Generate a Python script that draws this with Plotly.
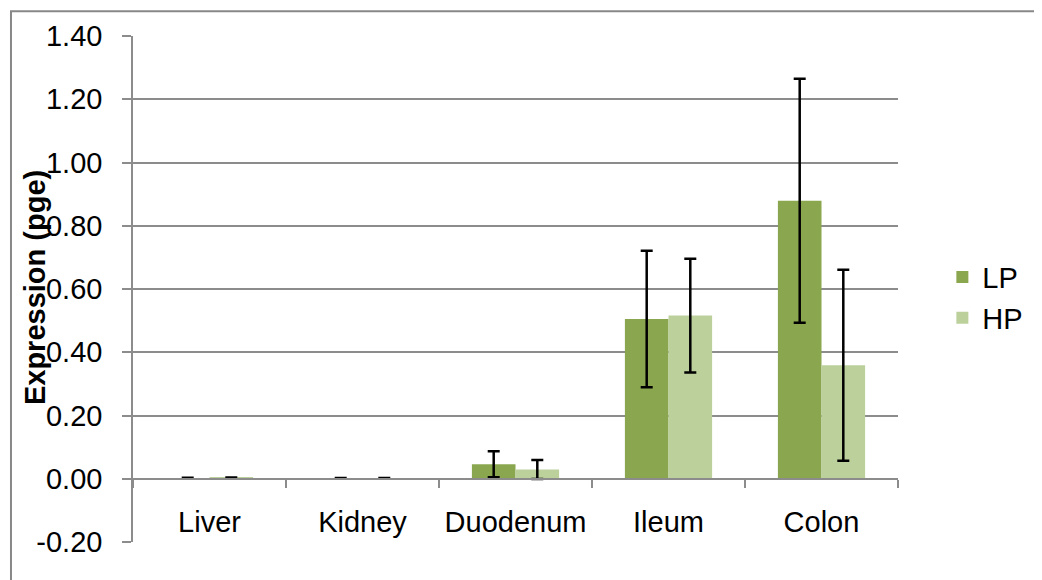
import plotly.graph_objects as go

categories = ["Liver", "Kidney", "Duodenum", "Ileum", "Colon"]
lp_values = [0.002, 0.001, 0.046, 0.505, 0.879]
lp_errors = [0.001, 0.001, 0.041, 0.216, 0.386]
hp_values = [0.003, 0.001, 0.029, 0.516, 0.359]
hp_errors = [0.001, 0.001, 0.030, 0.180, 0.302]
y_ticks = [-0.2, 0.0, 0.2, 0.4, 0.6, 0.8, 1.0, 1.2, 1.4]
y_tick_labels = ["-0.20", "0.00", "0.20", "0.40", "0.60", "0.80", "1.00", "1.20", "1.40"]

FONT = "Liberation Sans, Arial, sans-serif"
GRID = "#8c8c8c"

fig = go.Figure()
fig.add_trace(go.Bar(
    x=categories, y=lp_values, name="LP", legendgroup="lp",
    marker=dict(color="#8aa74f", line=dict(width=0)),
    error_y=dict(type="data", array=lp_errors, color="black", thickness=2.5, width=6),
))
fig.add_trace(go.Bar(
    x=categories, y=hp_values, name="HP", legendgroup="hp",
    marker=dict(color="#bbd09b", line=dict(width=0)),
    error_y=dict(type="data", array=hp_errors, color="black", thickness=2.5, width=6),
))

# page body has an 8px margin, so margins are shifted by that amount
fig.update_layout(
    width=1042, height=580,
    margin=dict(l=125, r=152, t=25, b=46),
    paper_bgcolor="white", plot_bgcolor="white",
    font=dict(family=FONT, size=29, color="black"),
    barmode="group", bargap=0.43, bargroupgap=0,
    legend=dict(x=1.058, xanchor="left", y=0.483, yanchor="middle",
                font=dict(size=29), tracegroupgap=28, traceorder="normal"),
    xaxis=dict(
        anchor="free", position=0.125,
        showline=True, linecolor=GRID, linewidth=1.5,
        ticks="outside", tickson="boundaries", ticklen=8, tickcolor=GRID, tickwidth=1.5,
        showgrid=False, ticklabelstandoff=18,
        tickfont=dict(size=29),
    ),
    yaxis=dict(
        range=[-0.2, 1.4], tickvals=y_ticks, ticktext=y_tick_labels,
        showline=True, linecolor=GRID, linewidth=1.5,
        ticks="outside", ticklen=9, tickcolor=GRID, tickwidth=1.5,
        showgrid=True, gridcolor=GRID, gridwidth=1.5,
        zeroline=True, zerolinecolor=GRID, zerolinewidth=1.5,
        ticklabelstandoff=14,
        tickfont=dict(size=29),
    ),
    annotations=[dict(
        text="<b>Expression (pge)</b>", textangle=-90,
        xref="paper", yref="paper", x=-0.128, y=0.502,
        xanchor="center", yanchor="middle", showarrow=False,
        font=dict(size=29, family=FONT),
    )],
    shapes=[dict(
        type="rect", xref="paper", yref="paper",
        x0=-0.1595, x1=1.3, y0=-0.2, y1=1.049,
        line=dict(color="#888888", width=2), fillcolor="rgba(0,0,0,0)", layer="below",
    )],
)

fig.write_html("out.html")
